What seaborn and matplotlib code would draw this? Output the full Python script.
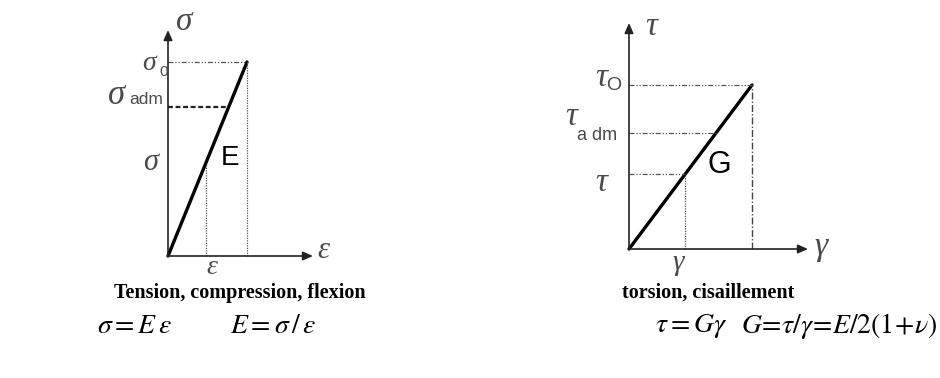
import matplotlib
matplotlib.use("Agg")
import matplotlib.pyplot as plt
import seaborn as sns
import pandas as pd

sns.set_theme(style="white")
plt.rcParams["font.family"] = ["Liberation Sans", "DejaVu Sans"]
plt.rcParams["mathtext.fontset"] = "stix"

# Normalised stress / strain levels (elastic limit = 1)
tension_levels = {"0": 1.0, "adm": 0.767, "": 0.477}
tension_strain = [0.0, 1.0]
tension_stress = [0.0, 1.0]

shear_levels = {"O": 1.0, "a dm": 0.707, "": 0.457}
shear_strain = [0.0, 1.0]
shear_stress = [0.0, 1.0]

titles = ["Tension, compression, flexion", "torsion, cisaillement"]

W, H = 940, 378
fig = plt.figure(figsize=(W / 100, H / 100), dpi=100)

GREY = "#4a4a4a"
SYM = dict(family="Liberation Serif", style="italic", color=GREY)


def panel(origin, unit):
    ox, oy = origin
    ux, uy = unit
    ax = fig.add_axes([ox / W, 1 - oy / H, ux / W, uy / H])
    ax.set_xlim(0, 1)
    ax.set_ylim(0, 1)
    ax.axis("off")

    def px(x, y):
        return (x - ox) / ux, (oy - y) / uy

    return ax, px


def axes_arrows(ax, xtip, ytip):
    for tip in [(xtip, 0), (0, ytip)]:
        ax.annotate("", xy=tip, xytext=(0, 0), xycoords="data",
                    arrowprops=dict(arrowstyle="-|>,head_length=0.5,head_width=0.22",
                                    color="#222222", lw=1.2, shrinkA=0, shrinkB=0),
                    annotation_clip=False)


# ---------- tension / compression / flexion ----------
axL, pL = panel((168, 256), (79, 194))
axes_arrows(axL, pL(313, 0)[0], pL(0, 30)[1])
sns.lineplot(data=pd.DataFrame({"eps": tension_strain, "sig": tension_stress}),
             x="eps", y="sig", ax=axL, color="black", lw=2.4, clip_on=False)
s0 = tension_levels["0"]
sa = tension_levels["adm"]
s1 = tension_levels[""]
axL.plot([0, s0], [s0, s0], ls=(0, (4, 1.5, 1, 1.5, 1, 1.5)), color="#555555", lw=0.9, clip_on=False)
axL.plot([s0, s0], [0, s0], ls=(0, (1, 1)), color="#555555", lw=0.9, clip_on=False)
axL.plot([0, sa * 0.98], [sa, sa], ls=(0, (2.2, 1.2)), color="#222222", lw=1.6, clip_on=False)
axL.plot([s1, s1], [0, s1], ls=(0, (1, 1)), color="#555555", lw=0.9, clip_on=False)

axL.text(*pL(184, 22), "σ", fontsize=24, ha="center", va="center", **SYM)
axL.text(*pL(323, 250), "ε", fontsize=22, ha="center", va="center", **SYM)
axL.text(*pL(212, 268), "ε", fontsize=20, ha="center", va="center", **SYM)
axL.text(*pL(149, 64), "σ", fontsize=20, ha="center", va="center", **SYM)
axL.text(*pL(164, 72), "0", fontsize=11, ha="center", va="center", color=GREY)
axL.text(*pL(117, 96), "σ", fontsize=25, ha="center", va="center", **SYM)
axL.text(*pL(146, 100), "adm", fontsize=12.5, ha="center", va="center", color=GREY)
axL.text(*pL(151, 162), "σ", fontsize=22, ha="center", va="center", **SYM)
axL.text(*pL(230, 158), "E", fontsize=20, ha="center", va="center", color="black")

# ---------- torsion / cisaillement ----------
axR, pR = panel((629, 249), (123, 164))
axes_arrows(axR, pR(808, 0)[0], pR(0, 23)[1])
sns.lineplot(data=pd.DataFrame({"gam": shear_strain, "tau": shear_stress}),
             x="gam", y="tau", ax=axR, color="black", lw=2.4, clip_on=False)
t0 = shear_levels["O"]
ta = shear_levels["a dm"]
t1 = shear_levels[""]
dashdot = (0, (4, 1.5, 1, 1.5, 1, 1.5))
axR.plot([0, t0], [t0, t0], ls=dashdot, color="#555555", lw=0.9, clip_on=False)
axR.plot([t0, t0], [0, t0], ls=(0, (5, 1.5, 1, 1.5)), color="#444444", lw=1.0, clip_on=False)
axR.plot([0, ta], [ta, ta], ls=dashdot, color="#555555", lw=0.9, clip_on=False)
axR.plot([0, t1], [t1, t1], ls=dashdot, color="#555555", lw=0.9, clip_on=False)
axR.plot([t1, t1], [0, t1], ls=(0, (1, 1)), color="#555555", lw=0.9, clip_on=False)

axR.text(*pR(651, 27), "τ", fontsize=24, ha="center", va="center", **SYM)
axR.text(*pR(821, 247), "γ", fontsize=24, ha="center", va="center", **SYM)
axR.text(*pR(678, 263), "γ", fontsize=21, ha="center", va="center", **SYM)
axR.text(*pR(601, 78), "τ", fontsize=24, ha="center", va="center", **SYM)
axR.text(*pR(614, 85), "O", fontsize=14, ha="center", va="center", color=GREY)
axR.text(*pR(571, 117), "τ", fontsize=24, ha="center", va="center", **SYM)
axR.text(*pR(597, 136), "a dm", fontsize=13, ha="center", va="center", color=GREY)
axR.text(*pR(601, 183), "τ", fontsize=24, ha="center", va="center", **SYM)
axR.text(*pR(719, 165), "G", fontsize=22, ha="center", va="center", color="black")

# ---------- captions and relations ----------
TITLE = dict(family="Liberation Serif", weight="bold", fontsize=14.5, ha="center", va="center", color="black")
fig.text(240 / W, 1 - 293 / H, titles[0], **TITLE)
fig.text(708 / W, 1 - 293 / H, titles[1], **TITLE)

EQ = dict(fontsize=20, ha="left", va="center", color="black")
fig.text(97 / W, 1 - 326 / H, r"$\sigma = E\,\varepsilon$", **EQ)
fig.text(230 / W, 1 - 326 / H, r"$E = \sigma\,/\,\varepsilon$", **EQ)
fig.text(655 / W, 1 - 326 / H, r"$\tau = G\gamma$", **EQ)
fig.text(741 / W, 1 - 326 / H, r"$G\!=\!\tau/\gamma\!=\!E/2(1\!+\!\nu)$", **EQ)

fig.savefig("out.png", dpi=100, facecolor="white")
